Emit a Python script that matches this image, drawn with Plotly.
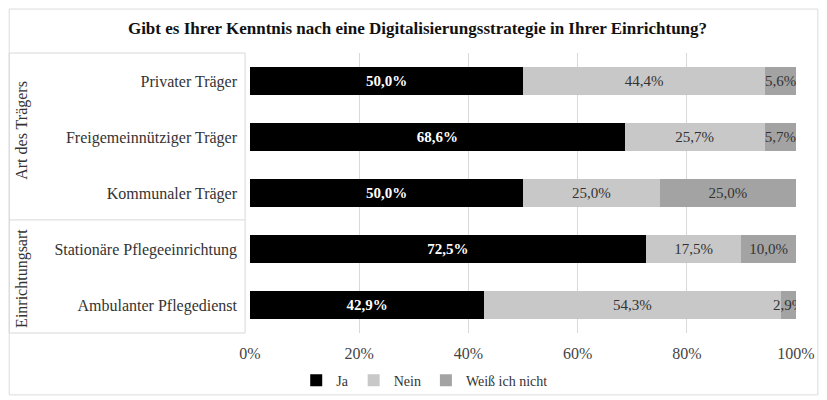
"""Stacked 100% bar chart: Digitalisierungsstrategie by Träger / Einrichtungsart."""

import plotly.graph_objects as go

CATEGORIES = [
    "Privater Träger",
    "Freigemeinnütziger Träger",
    "Kommunaler Träger",
    "Stationäre Pflegeeinrichtung",
    "Ambulanter Pflegedienst",
]
JA = [50.0, 68.6, 50.0, 72.5, 42.9]
NEIN = [44.4, 25.7, 25.0, 17.5, 54.3]
WEISS_NICHT = [5.6, 5.7, 25.0, 10.0, 2.9]
TICK_VALUES = [0, 20, 40, 60, 80, 100]
TICK_LABELS = ["0%", "20%", "40%", "60%", "80%", "100%"]
GROUPS = ["Art des Trägers", "Einrichtungsart"]

SERIES = [
    ("Ja", JA, "#000000", "white"),
    ("Nein", NEIN, "#c8c8c8", "#333333"),
    ("Weiß ich nicht", WEISS_NICHT, "#a3a3a3", "#333333"),
]

FONT = "Liberation Serif"


def _fmt(v):
    return f"{v:.1f}%".replace(".", ",")


fig = go.Figure()
for name, values, color, text_color in SERIES:
    fig.add_trace(
        go.Bar(
            name=name,
            y=CATEGORIES,
            x=values,
            orientation="h",
            marker=dict(color=color, line=dict(width=0)),
            text=[_fmt(v) for v in values],
            textposition="inside",
            insidetextanchor="middle",
            constraintext="none",
            textangle=0,
            textfont=dict(
                family=FONT,
                size=15,
                color=text_color,
                weight="bold" if name == "Ja" else "normal",
            ),
            width=0.5,
        )
    )

# group frames on the left (paper coords)
x_left = -0.441
x_box = -0.009
shapes = [
    dict(type="rect", xref="paper", yref="paper", x0=x_left, x1=1.040,
         y0=-0.221, y1=1.157, line=dict(color="#dcdcdc", width=1)),
    dict(type="rect", xref="paper", yref="paper", x0=x_left, x1=x_box,
         y0=0, y1=1, line=dict(color="#d8d8d8", width=1)),
    dict(type="line", xref="paper", yref="paper", x0=x_left, x1=x_box,
         y0=0.404, y1=0.404, line=dict(color="#d8d8d8", width=1)),
]

annotations = [
    dict(text=GROUPS[0], xref="paper", yref="paper", x=-0.418, y=0.725,
         xanchor="center", yanchor="middle",
         textangle=-90, showarrow=False, font=dict(family=FONT, size=16, color="#333")),
    dict(text=GROUPS[1], xref="paper", yref="paper", x=-0.418, y=0.196,
         xanchor="center", yanchor="middle",
         textangle=-90, showarrow=False, font=dict(family=FONT, size=16, color="#333")),
]

# the page body adds an 8px offset, so the figure is 8px smaller than the window
fig.update_layout(
    width=819,
    height=392,
    barmode="stack",
    paper_bgcolor="white",
    plot_bgcolor="white",
    font=dict(family=FONT, size=16, color="#333333"),
    title=dict(
        text="<b>Gibt es Ihrer Kenntnis nach eine Digitalisierungsstrategie in Ihrer Einrichtung?</b>",
        x=0.5,
        xanchor="center",
        y=0.949,
        yanchor="middle",
        font=dict(family=FONT, size=17, color="#111111"),
    ),
    margin=dict(l=242, r=31, t=45, b=67, autoexpand=False),
    xaxis=dict(
        range=[0, 100],
        tickvals=TICK_VALUES,
        ticktext=TICK_LABELS,
        showgrid=True,
        gridcolor="#d9d9d9",
        zeroline=False,
        showline=False,
        tickfont=dict(family=FONT, size=16, color="#444"),
        ticklabelstandoff=9,
    ),
    yaxis=dict(
        autorange="reversed",
        showgrid=False,
        showline=False,
        ticklabelstandoff=12,
        tickfont=dict(family=FONT, size=16, color="#333"),
    ),
    legend=dict(
        orientation="h",
        x=0.32,
        xanchor="center",
        y=-0.17,
        yanchor="middle",
        bgcolor="rgba(0,0,0,0)",
        font=dict(family=FONT, size=14, color="#333"),
        traceorder="normal",
        itemwidth=30,
    ),
    shapes=shapes,
    annotations=annotations,
)

fig.write_html("out.html")
